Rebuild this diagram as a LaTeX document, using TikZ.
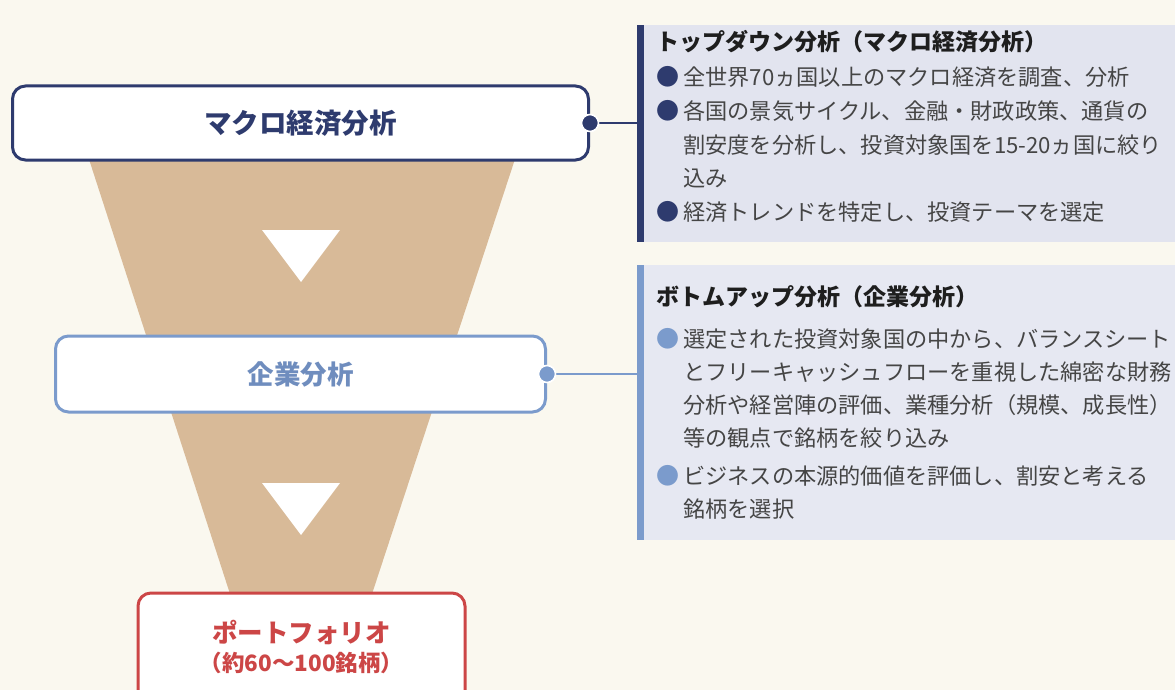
\documentclass[tikz,border=0pt]{standalone}
\usepackage{fontspec}
\setmainfont{Noto Sans CJK JP}
\definecolor{bgc}{HTML}{FAF8EF}
\definecolor{funnelc}{HTML}{D8BA98}
\definecolor{navy}{HTML}{2E3B6E}
\definecolor{lblue}{HTML}{7B9BCC}
\definecolor{redc}{HTML}{CC4646}
\definecolor{panelA}{HTML}{E2E4EF}
\definecolor{panelB}{HTML}{E6E8F2}
\definecolor{bodyc}{HTML}{454545}
\definecolor{titlec}{HTML}{1E1E1E}
\begin{document}
\begin{tikzpicture}[x=1pt,y=-1pt,
  stagebox/.style={draw, line width=3pt, rounded corners=13pt, fill=white, inner sep=0pt},
  panel/.style={anchor=north west, inner sep=0pt, minimum width=538pt},
  dotc/.style={circle, inner sep=0pt, minimum size=17pt, draw=white, line width=1.6pt},
  txt/.style={anchor=west, inner sep=0pt, text=bodyc, font=\fontsize{22.2}{26}\selectfont},
  ttl/.style={anchor=west, inner sep=0pt, text=titlec, font=\fontsize{23}{26}\selectfont\bfseries},
  bul/.style={anchor=center, inner sep=0pt, font=\fontsize{23}{26}\selectfont}
]
\useasboundingbox (0,0) rectangle (1175,690);
\clip (0,0) rectangle (1175,690);
\fill[bgc] (0,0) rectangle (1175,690);
% funnel
\fill[funnelc] (86,150) -- (518,150) -- (370,600) -- (232,600) -- cycle;
\fill[white] (262,230) -- (340,230) -- (301,282) -- cycle;
\fill[white] (262,483) -- (340,483) -- (301,535) -- cycle;

% panels
\node[panel, fill=panelA, minimum height=217pt] (p1) at (637,25) {};
\fill[navy] (p1.north west) rectangle ([xshift=7pt]p1.south west);
\node[panel, fill=panelB, minimum height=275pt] (p2) at (637,265) {};
\fill[lblue] (p2.north west) rectangle ([xshift=7pt]p2.south west);

% stage boxes
\node[stagebox, draw=navy, minimum width=576pt, minimum height=74pt, text=navy,
      font=\fontsize{27.5}{30}\selectfont\bfseries] (macro) at (300.5,123) {マクロ経済分析};
\node[stagebox, draw=lblue, minimum width=490pt, minimum height=76pt, text=lblue!85!navy,
      font=\fontsize{26.5}{30}\selectfont\bfseries] (firm) at (300.5,374) {企業分析};
\node[stagebox, draw=redc, minimum width=327pt, minimum height=130pt] (pf) at (301.5,658) {};
\node[inner sep=0pt, text=redc, font=\fontsize{25.5}{28}\selectfont\bfseries] (pft) at (301.5,632) {ポートフォリオ};
\node[inner sep=0pt, text=redc, font=\fontsize{22.5}{24}\selectfont\bfseries] (pfs) at (301.5,663) {（約60〜100銘柄）};

% connectors
\draw[navy, line width=1.5pt] (macro.east) -- (macro.east -| p1.west);
\node[dotc, fill=navy] (d1) at (macro.east) {};
\draw[lblue, line width=1.5pt] (firm.east) -- (firm.east -| p2.west);
\node[dotc, fill=lblue] (d2) at (firm.east) {};

% panel 1 text
\node[ttl] (t1) at (656,42) {トップダウン分析（マクロ経済分析）};
\node[bul, text=navy] (b11) at (668,77) {●};
\node[txt] (l11) at (683,77) {全世界70ヵ国以上のマクロ経済を調査、分析};
\node[bul, text=navy] (b12) at (668,111) {●};
\node[txt] (l12) at (683,111) {各国の景気サイクル、金融・財政政策、通貨の};
\node[txt] (l13) at (683,145) {割安度を分析し、投資対象国を15-20ヵ国に絞り};
\node[txt] (l14) at (683,178) {込み};
\node[bul, text=navy] (b13) at (668,212) {●};
\node[txt] (l15) at (683,212) {経済トレンドを特定し、投資テーマを選定};

% panel 2 text
\node[ttl] (t2) at (656,297) {ボトムアップ分析（企業分析）};
\node[bul, text=lblue] (b21) at (668,339) {●};
\node[txt] (l21) at (683,339) {選定された投資対象国の中から、バランスシート};
\node[txt] (l22) at (683,372) {とフリーキャッシュフローを重視した綿密な財務};
\node[txt] (l23) at (683,405) {分析や経営陣の評価、業種分析（規模、成長性）};
\node[txt] (l24) at (683,438) {等の観点で銘柄を絞り込み};
\node[bul, text=lblue] (b22) at (668,476) {●};
\node[txt] (l25) at (683,476) {ビジネスの本源的価値を評価し、割安と考える};
\node[txt] (l26) at (683,509) {銘柄を選択};
\end{tikzpicture}
\end{document}
